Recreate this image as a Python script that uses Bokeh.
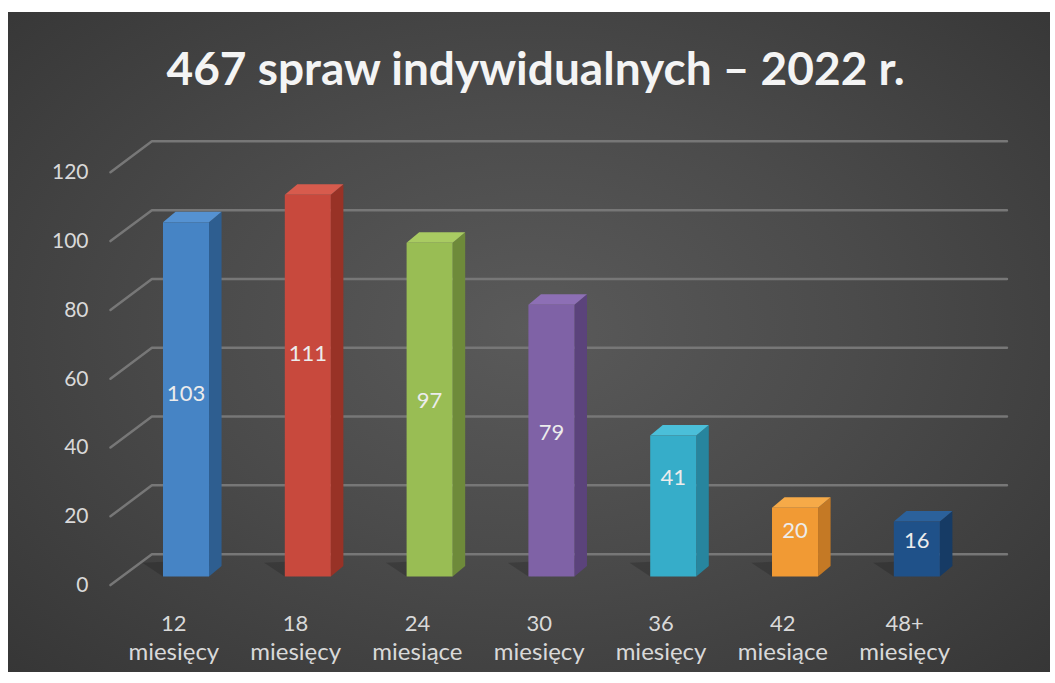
from bokeh.plotting import figure
from bokeh.models import Range1d, LinearAxis, FixedTicker, ColumnDataSource
from bokeh.core.properties import value
from bokeh.embed import file_html
from bokeh.resources import INLINE

# ---- data ----
months = ["12", "18", "24", "30", "36", "42", "48+"]
month_words = ["miesięcy", "miesięcy", "miesiące", "miesięcy", "miesięcy", "miesiące", "miesięcy"]
counts = [103, 111, 97, 79, 41, 20, 16]
y_ticks = [0, 20, 40, 60, 80, 100, 120]
title_text = "467 spraw indywidualnych – 2022 r."

# ---- styles ----
front_colors = ["#4684c5", "#c8493d", "#99bd54", "#7f62a6", "#36adc9", "#f19a34", "#1f5189"]
side_colors = ["#2e5e90", "#983226", "#6e8a3a", "#5b437b", "#27859e", "#c47925", "#163b65"]
top_colors = ["#5592d2", "#d75b4d", "#a9cb62", "#8d6fb5", "#4bbfd9", "#f6aa48", "#2b619b"]
label_lift = [6, 32, 9, 8, 28, 12, 8]   # px lift of value labels above mid-height

FONT = "Lato"
TXT = "#d9d9d9"

bg_css = (":host { background: radial-gradient(ellipse 70% 75% at 50% 48%, "
          "#5a5a5a 0%, #4b4b4b 45%, #363636 100%); }")

p = figure(width=1042, height=660, output_backend="svg", toolbar_location=None,
           x_range=Range1d(-0.702, 6.769), y_range=Range1d(-6.977, 138.37),
           x_axis_type=None, y_axis_type=None,
           min_border_left=92, min_border_right=40, min_border_top=88, min_border_bottom=72,
           background_fill_alpha=0, border_fill_alpha=0, outline_line_color=None,
           title=title_text, stylesheets=[bg_css])
p.margin = (12, 0, 0, 8)

p.title.align = "left"
p.title.offset = 66
p.title.text_font = FONT
p.title.text_font_size = "46px"
p.title.text_font_style = "bold"
p.title.text_color = "#f4f4f4"
p.title.standoff = 11

# label ranges (shifted so labels sit at the front of the 3D floor)
p.extra_x_ranges = {"lab": Range1d(-0.702 + 0.1, 6.769 + 0.1)}
p.extra_y_ranges = {"lab": Range1d(-6.977 + 2.33, 138.37 + 2.33)}

xs = list(range(len(counts)))

def style_axis(ax, standoff, size):
    ax.major_label_standoff = standoff
    ax.major_tick_out = 0
    ax.major_tick_in = 0
    ax.minor_tick_out = 0
    ax.minor_tick_in = 0
    ax.axis_line_color = None
    ax.major_label_text_font = FONT
    ax.major_label_text_font_size = size
    ax.major_label_text_color = TXT

yax = LinearAxis(y_range_name="lab", ticker=FixedTicker(ticks=y_ticks))
style_axis(yax, 12, "21px")
p.add_layout(yax, "left")

xax1 = LinearAxis(x_range_name="lab", ticker=FixedTicker(ticks=xs),
                  major_label_overrides={i: m for i, m in zip(xs, months)})
style_axis(xax1, 15, "22px")
p.add_layout(xax1, "below")

xax2 = LinearAxis(x_range_name="lab", ticker=FixedTicker(ticks=xs),
                  major_label_overrides={i: m for i, m in zip(xs, month_words)})
style_axis(xax2, 2, "24px")
p.add_layout(xax2, "below")

# back-wall gridlines with slanted floor connectors
x_slant0, x_wall, x_end = -0.62, -0.28, 6.74
wall_dy = 6.5
grid_xs = [[x_slant0, x_wall, x_end] for _ in y_ticks]
grid_ys = [[t - 2.5, t + wall_dy, t + wall_dy] for t in y_ticks]
p.multi_line(grid_xs, grid_ys, line_color="#777777", line_width=2.5, line_cap="round")

# 3D bars
w, dx, dy = 0.378, 0.103, 3.05
shadow_xs = [[x - w / 2 - 0.17, x - w / 2, x + w / 2 + dx, x + w / 2 + dx - 0.05] for x in xs]
shadow_ys = [[4.0, 0, dy, 5.0] for _ in xs]
p.patches(shadow_xs, shadow_ys, fill_color="black", fill_alpha=0.17, line_color=None)

side_xs = [[x + w / 2, x + w / 2 + dx, x + w / 2 + dx, x + w / 2] for x in xs]
side_ys = [[0, dy, v + dy, v] for v in counts]
p.patches(side_xs, side_ys, fill_color=side_colors, line_color=None)

top_xs = [[x - w / 2, x + w / 2, x + w / 2 + dx, x - w / 2 + dx] for x in xs]
top_ys = [[v, v, v + dy, v + dy] for v in counts]
p.patches(top_xs, top_ys, fill_color=top_colors, line_color=None)

src = ColumnDataSource(dict(x=xs, top=counts, color=front_colors,
                            mid=[v / 2 for v in counts],
                            off=[-l for l in label_lift],
                            label=[str(v) for v in counts]))
p.vbar(x="x", top="top", bottom=0, width=w, fill_color="color", line_color=None, source=src)

p.text(x="x", y="mid", text="label", y_offset="off", source=src,
       text_font=value(FONT), text_font_size="22px", text_color="#ececec",
       text_align="center", text_baseline="middle")

open("out.html", "w").write(file_html(p, INLINE))
